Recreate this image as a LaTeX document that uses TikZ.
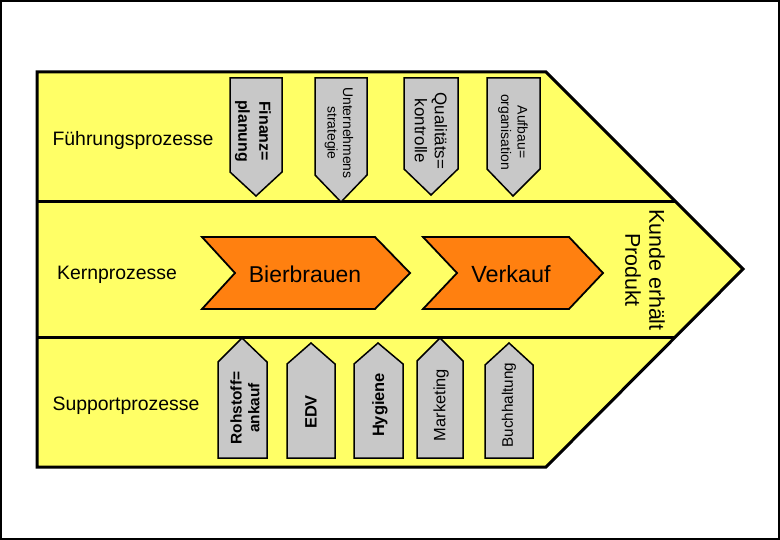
\documentclass[tikz,border=0pt]{standalone}
\usepackage{fontspec}
\setmainfont{Liberation Sans}
\definecolor{bandyellow}{HTML}{FFFF66}
\definecolor{boxgray}{HTML}{C8C8C8}
\definecolor{procorange}{HTML}{FF8010}
\tikzset{
  band/.style={fill=bandyellow, draw=black, line width=3bp, line join=miter},
  divider/.style={draw=black, line width=3bp},
  grayarrow/.style={fill=boxgray, draw=black, line width=1.5bp, line join=miter},
  chevron/.style={fill=procorange, draw=black, line width=1.8bp, line join=miter},
  lbl/.style={inner sep=0pt, align=center, text=black},
}
\begin{document}
\begin{tikzpicture}[x=1bp,y=-1bp]
\useasboundingbox (0,0) rectangle (780,540);
\fill[white] (0,0) rectangle (780,540);
\draw[line width=2bp] (1,1) rectangle (779,539);
% main shape
\draw[band] (37,72) -- (546,72) -- (743,269) -- (546,467) -- (37,467) -- cycle;
\coordinate (d1l) at (37,202);
\coordinate (d1r) at (676,202);
\coordinate (d2l) at (37,337);
\coordinate (d2r) at (675,337);
\draw[divider] (d1l) -- (d1r);
\draw[divider] (d2l) -- (d2r);
% band labels
\node[lbl, font=\fontsize{19.5}{22}\selectfont] (fp) at (133,140) {Führungsprozesse};
\node[lbl, font=\fontsize{19.5}{22}\selectfont] (kp) at (117,275) {Kernprozesse};
\node[lbl, font=\fontsize{19.5}{22}\selectfont] (sp) at (126,406) {Supportprozesse};
% top gray arrows (pointing down)
\draw[grayarrow] (230,78) -- (282,78) -- (282,172) -- (256,196) -- (230,172) -- cycle;
\draw[grayarrow] (315,78) -- (367,78) -- (367,175) -- (341,202) -- (315,175) -- cycle;
\draw[grayarrow] (404,78) -- (458,78) -- (458,169) -- (431,195) -- (404,169) -- cycle;
\draw[grayarrow] (487,78) -- (540,78) -- (540,169) -- (513,196) -- (487,169) -- cycle;
\node[lbl, rotate=-90, font=\bfseries\fontsize{16}{21}\selectfont] (t1) at (253,131) {Finanz=\\planung};
\node[lbl, rotate=-90, font=\fontsize{14}{15.5}\selectfont] (t2) at (339,133) {Unternehmens\\strategie};
\node[lbl, rotate=-90, font=\fontsize{17}{20}\selectfont] (t3) at (431,131) {Qualitäts=\\kontrolle};
\node[lbl, rotate=-90, font=\fontsize{14}{16.5}\selectfont] (t4) at (513,132) {Aufbau=\\organisation};
% bottom gray arrows (pointing up)
\draw[grayarrow] (218,458) -- (267,458) -- (267,362) -- (242,338) -- (218,362) -- cycle;
\draw[grayarrow] (287,458) -- (335,458) -- (335,364) -- (311,343) -- (287,364) -- cycle;
\draw[grayarrow] (354,458) -- (403,458) -- (403,364) -- (378,343) -- (354,364) -- cycle;
\draw[grayarrow] (417,458) -- (463,458) -- (463,361) -- (440,338) -- (417,361) -- cycle;
\draw[grayarrow] (485,458) -- (533,458) -- (533,365) -- (509,343) -- (485,365) -- cycle;
\node[lbl, rotate=90, font=\bfseries\fontsize{15.5}{18}\selectfont] (b1) at (245,408) {Rohstoff=\\ankauf};
\node[lbl, rotate=90, font=\bfseries\fontsize{16.5}{19}\selectfont] (b2) at (311,412) {EDV};
\node[lbl, rotate=90, font=\bfseries\fontsize{16.5}{19}\selectfont] (b3) at (380,405) {Hygiene};
\node[lbl, rotate=90, font=\fontsize{16.5}{19}\selectfont] (b4) at (441,405) {Marketing};
\node[lbl, rotate=90, font=\fontsize{15.3}{18}\selectfont] (b5) at (509,405) {Buchhaltung};
% orange chevrons
\draw[chevron] (202,237) -- (375,237) -- (410,273) -- (375,309) -- (202,309) -- (235,273) -- cycle;
\draw[chevron] (423,237) -- (569,237) -- (603,273) -- (569,309) -- (423,309) -- (457,273) -- cycle;
\node[lbl, font=\fontsize{23}{27}\selectfont] (c1) at (305,274) {Bierbrauen};
\node[lbl, font=\fontsize{23.5}{27}\selectfont] (c2) at (511,274) {Verkauf};
% end label
\node[lbl, rotate=-90, font=\fontsize{21.5}{24}\selectfont] (ku) at (645,270) {Kunde erhält\\Produkt};
\end{tikzpicture}
\end{document}
